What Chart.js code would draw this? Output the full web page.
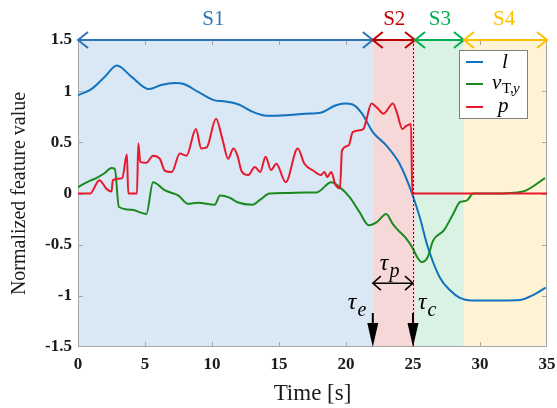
<!DOCTYPE html>
<html>
<head>
<meta charset="utf-8">
<script src="https://cdn.jsdelivr.net/npm/chart.js@4/dist/chart.umd.min.js"></script>
<style>
html, body { margin: 0; padding: 0; background: #fff; }
</style>
</head>
<body>
<canvas id="featureChart" width="557" height="408"></canvas>
<script>
// l
const lTime = [0, 1, 2, 2.9, 4, 5.3, 6.2, 7.2, 7.9, 9, 10.2, 11, 12, 13, 14.1, 15.5, 17, 18.1, 19.2, 19.9,
  20.5, 21.2, 22, 23, 24, 24.9, 25.5, 26.1, 27, 27.8, 28.5, 29.3, 31, 33, 34, 34.9];
const lValues = [0.96, 1.02, 1.14, 1.25, 1.14, 1.02, 1.06, 1.08, 1.07, 0.99, 0.91, 0.90, 0.87, 0.80, 0.76, 0.765, 0.78, 0.79, 0.86, 0.88,
  0.87, 0.78, 0.60, 0.47, 0.29, 0.01, -0.23, -0.52, -0.82, -0.95, -1.02, -1.045, -1.045, -1.04, -0.99, -0.92];

// v_T,y
const vTime = [0, 0.5, 1, 1.5, 2, 2.5, 2.75, 3.05, 4, 5.1, 5.6, 6.5, 7.5, 8.2, 8.95, 10.2, 10.6, 11.3, 11.9, 13.0,
  13.6, 14.3, 15.5, 17, 17.8, 18.9, 19.55, 20.3, 21, 21.7, 22.3, 23.0, 23.5, 23.9, 24.5, 25.0, 25.3, 25.65, 26.1, 26.5,
  27.3, 28.0, 28.5, 29.0, 29.5, 31, 33.2, 34.85];
const vValues = [0.06, 0.1, 0.13, 0.16, 0.2, 0.25, 0.24, -0.13, -0.16, -0.2, 0.11, 0.03, -0.02, -0.1, -0.09, -0.11, -0.02, -0.04, -0.085, -0.11,
  -0.06, 0.0, 0.005, 0.01, 0.01, 0.11, 0.06, -0.04, -0.18, -0.31, -0.28, -0.2, -0.3, -0.36, -0.44, -0.54, -0.62, -0.67, -0.62, -0.46,
  -0.36, -0.2, -0.085, -0.07, 0.0, 0.0, 0.02, 0.15];

// p
const pTime = [0, 0.9, 1.6, 2.1, 2.5, 2.6, 3.3, 3.65, 3.75, 4.4, 4.5, 4.65, 5.1, 5.6, 6.1, 6.5, 7.0, 7.6, 8.1, 8.8,
  9.2, 9.6, 10.3, 10.8, 11.2, 11.6, 11.9, 12.2, 12.7, 13.2, 13.6, 14.0, 14.4, 14.8, 15.5, 16.4, 16.9, 17.6, 18.1, 18.4,
  18.6, 18.9, 19.2, 19.55, 19.7, 20.2, 20.5, 21.3, 21.5, 21.9, 22.3, 22.8, 23.5, 23.8, 24.2, 24.5, 24.85, 24.95, 35];
const pValues = [0, 0, 0.13, 0.05, 0.02, 0.13, 0.15, 0.38, 0, 0, 0.49, 0.31, 0.30, 0.37, 0.34, 0.22, 0.21, 0.39, 0.37, 0.63,
  0.44, 0.45, 0.73, 0.52, 0.34, 0.44, 0.37, 0.22, 0.18, 0.26, 0.21, 0.36, 0.23, 0.29, 0.11, 0.44, 0.29, 0.22, 0.18, 0.21,
  0.16, 0.21, 0.09, 0.05, 0.42, 0.47, 0.6, 0.63, 0.71, 0.88, 0.84, 0.78, 0.88, 0.79, 0.63, 0.66, 0.68, 0, 0];

// phases
const phaseNames = ["S1", "S2", "S3", "S4"];
const phaseBounds = [0, 22, 25.15, 28.8, 35];
const tauE = 22;
const tauC = 25;

const phaseLine = ["#2e75b6", "#c00000", "#00b050", "#ffc000"];
const phaseFill = ["#dae7f4", "#f6d8d8", "#d9f2e3", "#fff3d6"];
const phaseLabelAt = [10.1, 23.6, 27, 31.8];

const serif = "'Liberation Serif', 'Times New Roman', serif";
const mathFont = s => "italic " + s + "px " + serif;

function pts(ts, vs) {
  return ts.map((t, i) => ({ x: t, y: vs[i] }));
}

function chevron(ctx, x, y, dir, len, half) {
  // open arrow head with its tip at (x, y); dir = -1 points left, 1 right
  ctx.beginPath();
  ctx.moveTo(x - dir * len, y - half);
  ctx.lineTo(x, y);
  ctx.lineTo(x - dir * len, y + half);
  ctx.stroke();
}

function downArrow(ctx, x, y0, y1) {
  ctx.beginPath();
  ctx.moveTo(x, y0);
  ctx.lineTo(x, y1 - 10);
  ctx.stroke();
  ctx.beginPath();
  ctx.moveTo(x - 5.5, y1 - 24);
  ctx.lineTo(x + 5.5, y1 - 24);
  ctx.lineTo(x, y1);
  ctx.closePath();
  ctx.fill();
}

function subText(ctx, main, sub, x, y, size, subSize) {
  ctx.font = mathFont(size);
  ctx.fillText(main, x, y);
  const w = ctx.measureText(main).width;
  ctx.font = mathFont(subSize);
  ctx.fillText(sub, x + w + 1, y + size * 0.3);
}

const figurePlugin = {
  id: "figure",
  beforeDatasetsDraw(chart) {
    const ctx = chart.ctx, a = chart.chartArea;
    const xs = chart.scales.x, ys = chart.scales.y;
    ctx.save();
    for (let i = 0; i < phaseNames.length; i++) {
      const x0 = xs.getPixelForValue(phaseBounds[i]);
      const x1 = xs.getPixelForValue(phaseBounds[i + 1]);
      ctx.fillStyle = phaseFill[i];
      ctx.fillRect(x0, a.top, x1 - x0, a.bottom - a.top);
    }
    // box and inward ticks
    ctx.strokeStyle = "#a6a6a6";
    ctx.lineWidth = 1;
    ctx.strokeRect(a.left + 0.5, a.top + 0.5, a.right - a.left - 1, a.bottom - a.top - 1);
    ctx.beginPath();
    for (let t = 5; t < 35; t += 5) {
      const x = Math.round(xs.getPixelForValue(t)) + 0.5;
      ctx.moveTo(x, a.bottom); ctx.lineTo(x, a.bottom - 5);
      ctx.moveTo(x, a.top); ctx.lineTo(x, a.top + 5);
    }
    for (let v = -1; v <= 1; v += 0.5) {
      const y = Math.round(ys.getPixelForValue(v)) + 0.5;
      ctx.moveTo(a.left, y); ctx.lineTo(a.left + 5, y);
      ctx.moveTo(a.right, y); ctx.lineTo(a.right - 5, y);
    }
    ctx.stroke();
    ctx.restore();
  },
  afterDatasetsDraw(chart) {
    const ctx = chart.ctx, a = chart.chartArea;
    const xs = chart.scales.x, ys = chart.scales.y;
    ctx.save();

    // dotted line at tau_c
    const xc = Math.round(xs.getPixelForValue(tauC)) + 0.5;
    ctx.strokeStyle = "#222";
    ctx.lineWidth = 1;
    ctx.setLineDash([2, 2]);
    ctx.beginPath();
    ctx.moveTo(xc, a.top);
    ctx.lineTo(xc, a.bottom);
    ctx.stroke();
    ctx.setLineDash([]);

    // phase arrows along the top
    ctx.lineWidth = 2;
    ctx.textAlign = "center";
    ctx.textBaseline = "middle";
    for (let i = 0; i < phaseNames.length; i++) {
      const x0 = xs.getPixelForValue(phaseBounds[i]);
      const x1 = xs.getPixelForValue(phaseBounds[i + 1]);
      ctx.strokeStyle = phaseLine[i];
      ctx.beginPath();
      ctx.moveTo(x0, a.top);
      ctx.lineTo(x1, a.top);
      ctx.stroke();
      chevron(ctx, x0, a.top, -1, 10, 8);
      chevron(ctx, x1, a.top, 1, 10, 8);
      ctx.fillStyle = phaseLine[i];
      ctx.font = "21px " + serif;
      ctx.fillText(phaseNames[i], xs.getPixelForValue(phaseLabelAt[i]), a.top - 21);
    }

    // tau_e, tau_c arrows
    const xe = xs.getPixelForValue(tauE);
    ctx.strokeStyle = "#000";
    ctx.fillStyle = "#000";
    ctx.lineWidth = 2;
    downArrow(ctx, xe, a.bottom - 34, a.bottom);
    downArrow(ctx, xs.getPixelForValue(tauC), a.bottom - 34, a.bottom);

    // tau_p double arrow
    const yp = ys.getPixelForValue(-0.876);
    const xp1 = xs.getPixelForValue(tauC);
    ctx.lineWidth = 1.5;
    ctx.beginPath();
    ctx.moveTo(xe, yp);
    ctx.lineTo(xp1, yp);
    ctx.stroke();
    chevron(ctx, xe, yp, -1, 8, 7);
    chevron(ctx, xp1, yp, 1, 8, 7);

    ctx.textAlign = "left";
    ctx.textBaseline = "alphabetic";
    subText(ctx, "\u03c4", "p", xe + 7, yp - 13, 24, 20);
    subText(ctx, "\u03c4", "e", xe - 25, a.bottom - 38, 24, 20);
    subText(ctx, "\u03c4", "c", xp1 + 5, a.bottom - 38, 24, 20);

    // legend
    const bw = 68, bh = 68;
    const bx = a.right - 20 - bw, by = a.top + 10;
    ctx.fillStyle = "#fff";
    ctx.fillRect(bx, by, bw, bh);
    ctx.strokeStyle = "#7f7f7f";
    ctx.lineWidth = 1;
    ctx.strokeRect(bx + 0.5, by + 0.5, bw, bh);
    const rows = [by + 12, by + 34, by + 57];
    chart.data.datasets.forEach((ds, i) => {
      ctx.strokeStyle = ds.borderColor;
      ctx.lineWidth = 2;
      ctx.beginPath();
      ctx.moveTo(bx + 7, rows[i]);
      ctx.lineTo(bx + 24, rows[i]);
      ctx.stroke();
    });
    ctx.fillStyle = "#000";
    ctx.textBaseline = "alphabetic";
    ctx.textAlign = "left";
    ctx.font = mathFont(21);
    ctx.fillText("l", bx + 43, rows[0] + 6);
    ctx.font = mathFont(21);
    ctx.fillText("v", bx + 33, rows[1] + 5);
    ctx.font = "15px " + serif;
    ctx.fillText("T,", bx + 43, rows[1] + 9);
    ctx.font = mathFont(15);
    ctx.fillText("y", bx + 54, rows[1] + 9);
    ctx.font = mathFont(21);
    ctx.fillText("p", bx + 39, rows[2] + 5);

    ctx.restore();
  }
};

new Chart(document.getElementById("featureChart"), {
  type: "line",
  data: {
    datasets: [
      { label: "l", data: pts(lTime, lValues), borderColor: "#1172bd", order: 3 },
      { label: "v", data: pts(vTime, vValues), borderColor: "#1a8a1f", order: 2 },
      { label: "p", data: pts(pTime, pValues), borderColor: "#e8192c", order: 1 }
    ]
  },
  options: {
    responsive: false,
    animation: false,
    layout: { padding: { top: 40, right: 10, left: 0, bottom: 0 } },
    elements: {
      point: { radius: 0 },
      line: { borderWidth: 2, cubicInterpolationMode: "monotone", fill: false }
    },
    plugins: { legend: { display: false }, tooltip: { enabled: false } },
    scales: {
      x: {
        type: "linear",
        min: 0,
        max: 35,
        grid: { display: false, drawTicks: false },
        border: { display: false },
        ticks: {
          stepSize: 5,
          padding: 7,
          color: "#1a1a1a",
          font: { family: serif, size: 17, weight: "bold" },
          callback: v => String(v)
        },
        title: {
          display: true,
          text: "Time [s]",
          color: "#1a1a1a",
          font: { family: serif, size: 23 },
          padding: { top: 3, bottom: 0 }
        },
        afterFit: s => { s.height = 61; s.paddingRight = 0; s.paddingLeft = 0; }
      },
      y: {
        min: -1.5,
        max: 1.5,
        grid: { display: false, drawTicks: false },
        border: { display: false },
        ticks: {
          stepSize: 0.5,
          padding: 6,
          color: "#1a1a1a",
          font: { family: serif, size: 17, weight: "bold" },
          callback: v => String(v)
        },
        title: {
          display: true,
          text: "Normalized feature value",
          color: "#1a1a1a",
          font: { family: serif, size: 20 },
          padding: { top: 8, bottom: 0 }
        },
        afterFit: s => { s.width = 78; s.paddingTop = 0; s.paddingBottom = 0; }
      }
    }
  },
  plugins: [figurePlugin]
});
</script>
</body>
</html>
